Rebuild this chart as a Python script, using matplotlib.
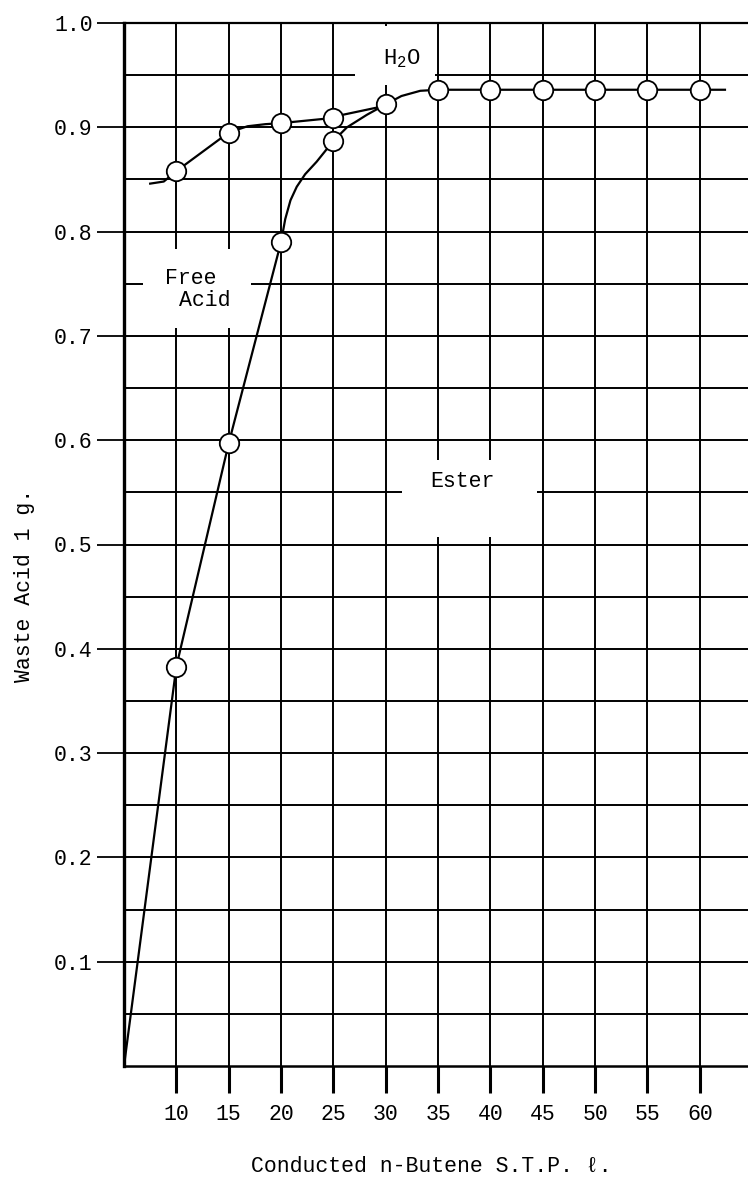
import matplotlib
matplotlib.use("Agg")
import matplotlib.pyplot as plt
from matplotlib.patches import Rectangle

plt.rcParams['font.family'] = ['Liberation Mono', 'DejaVu Sans Mono']
plt.rcParams['mathtext.fontset'] = 'custom'
plt.rcParams['mathtext.rm'] = 'Liberation Mono'
plt.rcParams['mathtext.it'] = 'Liberation Mono'

# measured points (circles)
h2o_x = [10, 15, 20, 25, 30, 35, 40, 45, 50, 55, 60]
h2o_y = [0.858, 0.895, 0.904, 0.909, 0.922, 0.936, 0.936, 0.936, 0.936, 0.936, 0.936]
ester_x = [10, 15, 20, 25]
ester_y = [0.383, 0.597, 0.790, 0.887]

# hand drawn curves
h2o_curve_x = [7.5, 8.8, 10, 15, 16.8, 18.5, 20, 25, 25.9, 29.2, 30, 31.5, 33.3, 35, 40, 45, 50, 55, 60, 62.4]
h2o_curve_y = [0.846, 0.848, 0.858, 0.895, 0.901, 0.903, 0.904, 0.909, 0.912, 0.919, 0.922, 0.930, 0.935,
               0.936, 0.936, 0.936, 0.936, 0.936, 0.936, 0.936]
ester_curve_x = [5, 10, 15, 20, 20.4, 20.9, 21.5, 22.3, 23.4, 25, 26.3, 28.2, 30]
ester_curve_y = [0.0, 0.383, 0.597, 0.790, 0.812, 0.830, 0.843, 0.855, 0.867, 0.887, 0.900, 0.912, 0.922]

x_ticks = [10, 15, 20, 25, 30, 35, 40, 45, 50, 55, 60]
x_tick_labels = ["10", "15", "20", "25", "30", "35", "40", "45", "50", "55", "60"]
y_ticks = [0.1, 0.2, 0.3, 0.4, 0.5, 0.6, 0.7, 0.8, 0.9, 1.0]
y_tick_labels = ["0.1", "0.2", "0.3", "0.4", "0.5", "0.6", "0.7", "0.8", "0.9", "1.0"]
y_minor = [0.05, 0.15, 0.25, 0.35, 0.45, 0.55, 0.65, 0.75, 0.85, 0.95]

fig = plt.figure(figsize=(7.48, 11.79), dpi=100)
ax = fig.add_axes([124 / 748, 113 / 1179, 1 - 124 / 748, (1066 - 23) / 1179])
ax.set_xlim(5, 64.6)
ax.set_ylim(0, 1.0)

ax.set_xticks(x_ticks)
ax.set_xticklabels(x_tick_labels, fontsize=15.5)
ax.set_yticks(y_ticks)
ax.set_yticklabels(y_tick_labels, fontsize=15.5)
ax.set_yticks(y_minor, minor=True)
ax.tick_params(axis='x', which='major', direction='out', length=19.5, width=2.2, pad=8)
ax.tick_params(axis='y', which='major', direction='out', length=19.5, width=1.3, pad=3)
ax.tick_params(axis='y', which='minor', length=0)

ax.set_axisbelow(True)
ax.xaxis.grid(True, which='major', color='black', linewidth=1.4)
ax.yaxis.grid(True, which='both', color='black', linewidth=1.4)

ax.spines['right'].set_visible(False)
ax.spines['left'].set_linewidth(2.4)
ax.spines['bottom'].set_linewidth(1.8)
ax.spines['top'].set_linewidth(1.6)

# blank areas behind the labels
for (bx, by, bw, bh) in [(27.1, 0.941, 7.6, 0.056), (6.8, 0.708, 10.3, 0.075), (31.55, 0.507, 12.9, 0.074)]:
    ax.add_patch(Rectangle((bx, by), bw, bh, facecolor='white', edgecolor='none', zorder=1))

ax.plot(h2o_curve_x, h2o_curve_y, color='black', linewidth=1.6, zorder=2)
ax.plot(ester_curve_x, ester_curve_y, color='black', linewidth=1.6, zorder=2)
ax.plot(h2o_x, h2o_y, linestyle='none', marker='o', markersize=14, markerfacecolor='white',
        markeredgecolor='black', markeredgewidth=1.3, zorder=3)
ax.plot(ester_x, ester_y, linestyle='none', marker='o', markersize=14, markerfacecolor='white',
        markeredgecolor='black', markeredgewidth=1.3, zorder=3)

ax.text(31.55, 0.966, "H$_2$O", fontsize=16, ha='center', va='center', zorder=4)
ax.text(11.4, 0.755, "Free", fontsize=15.5, ha='center', va='center', zorder=4)
ax.text(12.75, 0.7335, "Acid", fontsize=15.5, ha='center', va='center', zorder=4)
ax.text(37.3, 0.56, "Ester", fontsize=15.5, ha='center', va='center', zorder=4)

fig.text(431 / 748, 1 - 1166 / 1179, "Conducted n-Butene S.T.P. \u2113.", fontsize=15.5,
         ha='center', va='center')
fig.text(25 / 748, 1 - 585 / 1179, "Waste Acid 1 g.", fontsize=15.5, rotation=90,
         ha='center', va='center')

fig.savefig("out.png", dpi=100)
